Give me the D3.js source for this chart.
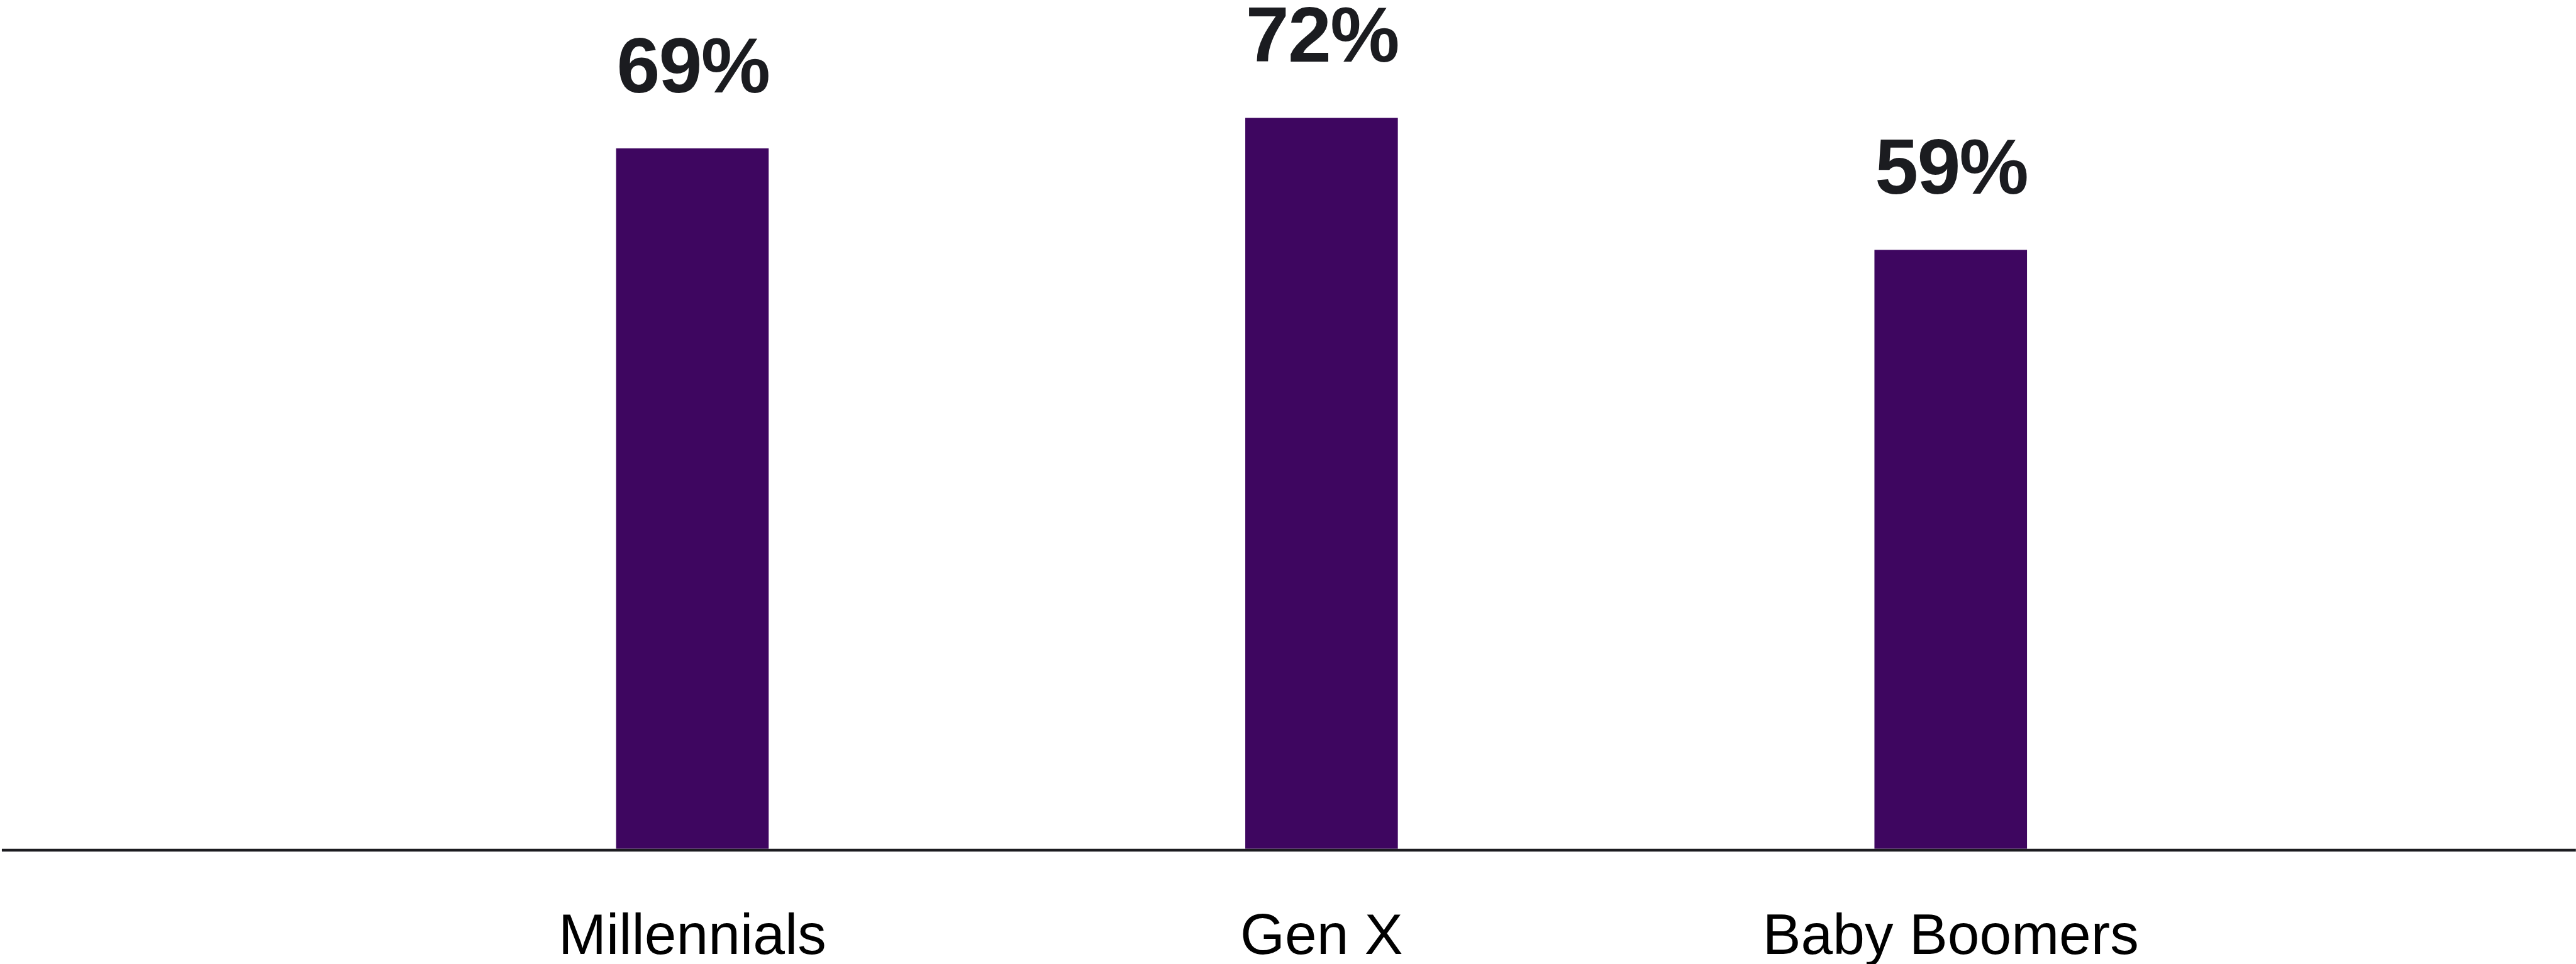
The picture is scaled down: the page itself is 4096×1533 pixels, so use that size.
<!DOCTYPE html>
<html>
<head>
<meta charset="utf-8">
<script src="https://cdn.jsdelivr.net/npm/d3@7"></script>
<style>
  html, body { margin: 0; padding: 0; background: #ffffff; overflow: hidden; }
  svg { display: block; }
</style>
</head>
<body>
<div id="chart"></div>
<script>
// Share of each generation (percent)
const categories = ["Millennials", "Gen X", "Baby Boomers"];
const values = [69, 72, 59];
const valueLabels = ["69%", "72%", "59%"];

const W = 4491, H = 1681;        // drawing units
const outW = 4096, outH = 1533;  // on-screen size

const svg = d3.select("#chart").append("svg")
  .attr("width", outW)
  .attr("height", outH)
  .attr("viewBox", `0 0 ${W} ${H}`);

const baseY = 1480;

const x = d3.scaleBand()
  .domain(categories)
  .range([525.5, 4082.5])
  .paddingInner(0.7575)
  .paddingOuter(0.5);

const y = d3.scaleLinear()
  .domain([0, 100])
  .range([baseY, baseY - 1770]);

// Bars
svg.append("g")
  .selectAll("rect")
  .data(values)
  .join("rect")
  .attr("x", (d, i) => x(categories[i]))
  .attr("y", d => y(d))
  .attr("width", x.bandwidth())
  .attr("height", d => y(0) - y(d))
  .attr("fill", "#3e0660");

// Baseline
svg.append("line")
  .attr("x1", 3).attr("x2", W)
  .attr("y1", baseY + 2.5).attr("y2", baseY + 2.5)
  .attr("stroke", "#1c1c20")
  .attr("stroke-width", 5);

// Value labels above bars
svg.append("g")
  .selectAll("text")
  .data(values)
  .join("text")
  .attr("x", (d, i) => x(categories[i]) + x.bandwidth() / 2 + 1)
  .attr("y", d => y(d) - 98)
  .attr("text-anchor", "middle")
  .attr("font-family", "'Liberation Sans', Arial, Helvetica, sans-serif")
  .attr("font-weight", "bold")
  .attr("font-size", 136)
  .attr("letter-spacing", -2)
  .attr("fill", "#1b1c20")
  .text((d, i) => valueLabels[i]);

// Category labels below the baseline
svg.append("g")
  .selectAll("text")
  .data(categories)
  .join("text")
  .attr("x", d => x(d) + x.bandwidth() / 2)
  .attr("y", 1663)
  .attr("text-anchor", "middle")
  .attr("font-family", "'Liberation Sans', Arial, Helvetica, sans-serif")
  .attr("font-size", 100)
  .attr("fill", "#000000")
  .text(d => d);
</script>
</body>
</html>
